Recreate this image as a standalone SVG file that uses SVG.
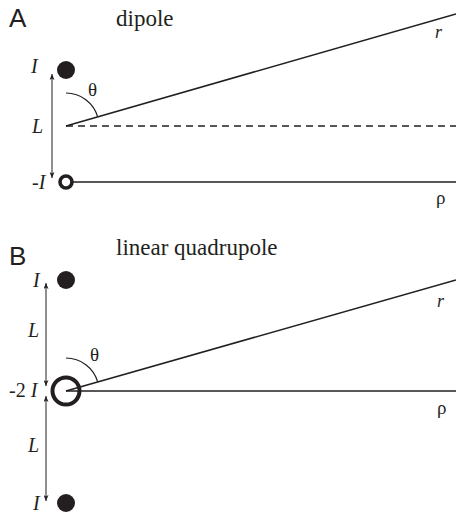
<svg xmlns="http://www.w3.org/2000/svg" width="456" height="515" viewBox="0 0 456 515">
<defs>
<style>
.panel{font-family:"Liberation Sans",Arial,sans-serif;font-size:26px;fill:#231f20}
.title{font-family:"Liberation Serif","Times New Roman",serif;font-size:23px;fill:#231f20}
.lab{font-family:"Liberation Serif","Times New Roman",serif;font-style:italic;font-size:20px;fill:#231f20}
.sym{font-family:"Liberation Serif","Times New Roman",serif;font-size:19px;fill:#231f20}
.ln{stroke:#231f20;stroke-width:1.6;fill:none}
.dim{stroke:#231f20;stroke-width:1;fill:none;marker-start:url(#ah);marker-end:url(#ah)}
.arc{stroke:#231f20;stroke-width:1.2;fill:none}
.pos{fill:#231f20}
</style>
<marker id="ah" viewBox="0 0 6 5" refX="6" refY="2.5" markerWidth="6" markerHeight="5" markerUnits="userSpaceOnUse" orient="auto-start-reverse">
<path d="M0,0 L6,2.5 L0,5 L1.5,2.5 Z" fill="#231f20"/>
</marker>
</defs>
<rect width="456" height="515" fill="#ffffff"/>

<g id="panelA">
<text class="panel" x="9" y="27">A</text>
<text class="title" x="116" y="26">dipole</text>
<g id="connectorsA">
<line class="ln" x1="66" y1="126" x2="456" y2="14"/>
<line class="ln" x1="66" y1="126" x2="456" y2="126" stroke-dasharray="7 5"/>
<line class="ln" x1="70" y1="182" x2="456" y2="182"/>
<line class="dim" x1="52" y1="74" x2="52" y2="178"/>
<path class="arc" d="M66,93 A33,33 0 0 1 97.7,116.9"/>
</g>
<g id="chargeA1"><circle class="pos" cx="66" cy="70" r="9"/><text class="lab" x="31" y="73">I</text></g>
<g id="chargeA2"><circle cx="66" cy="182" r="6" fill="#ffffff" stroke="#231f20" stroke-width="3.6"/><text class="lab" x="32" y="189">-I</text></g>
<text class="sym" x="88" y="96">θ</text>
<text class="lab" x="32" y="133">L</text>
<text class="lab" x="435" y="38" style="font-size:18px">r</text>
<text class="sym" x="436" y="204">ρ</text>
</g>

<g id="panelB">
<text class="panel" x="9" y="265">B</text>
<text class="title" x="116" y="255">linear quadrupole</text>
<g id="connectorsB">
<line class="ln" x1="66" y1="391" x2="456" y2="280"/>
<line class="ln" x1="66" y1="391" x2="456" y2="391"/>
<line class="dim" x1="46" y1="283" x2="46" y2="386"/>
<line class="dim" x1="46" y1="396" x2="46" y2="501"/>
<path class="arc" d="M66,358 A33,33 0 0 1 97.7,381.9"/>
</g>
<g id="chargeB1"><circle class="pos" cx="66" cy="280" r="9"/><text class="lab" x="33" y="287">I</text></g>
<g id="chargeB2"><circle cx="66" cy="391" r="13.5" fill="none" stroke="#231f20" stroke-width="4"/><text class="lab" x="9" y="397"><tspan style="font-style:normal">-2</tspan> I</text></g>
<g id="chargeB3"><circle class="pos" cx="66" cy="503" r="9"/><text class="lab" x="33" y="510">I</text></g>
<text class="sym" x="90" y="361">θ</text>
<text class="lab" x="28" y="337">L</text>
<text class="lab" x="28" y="452">L</text>
<text class="lab" x="437" y="307" style="font-size:18px">r</text>
<text class="sym" x="437" y="414">ρ</text>
</g>
</svg>
